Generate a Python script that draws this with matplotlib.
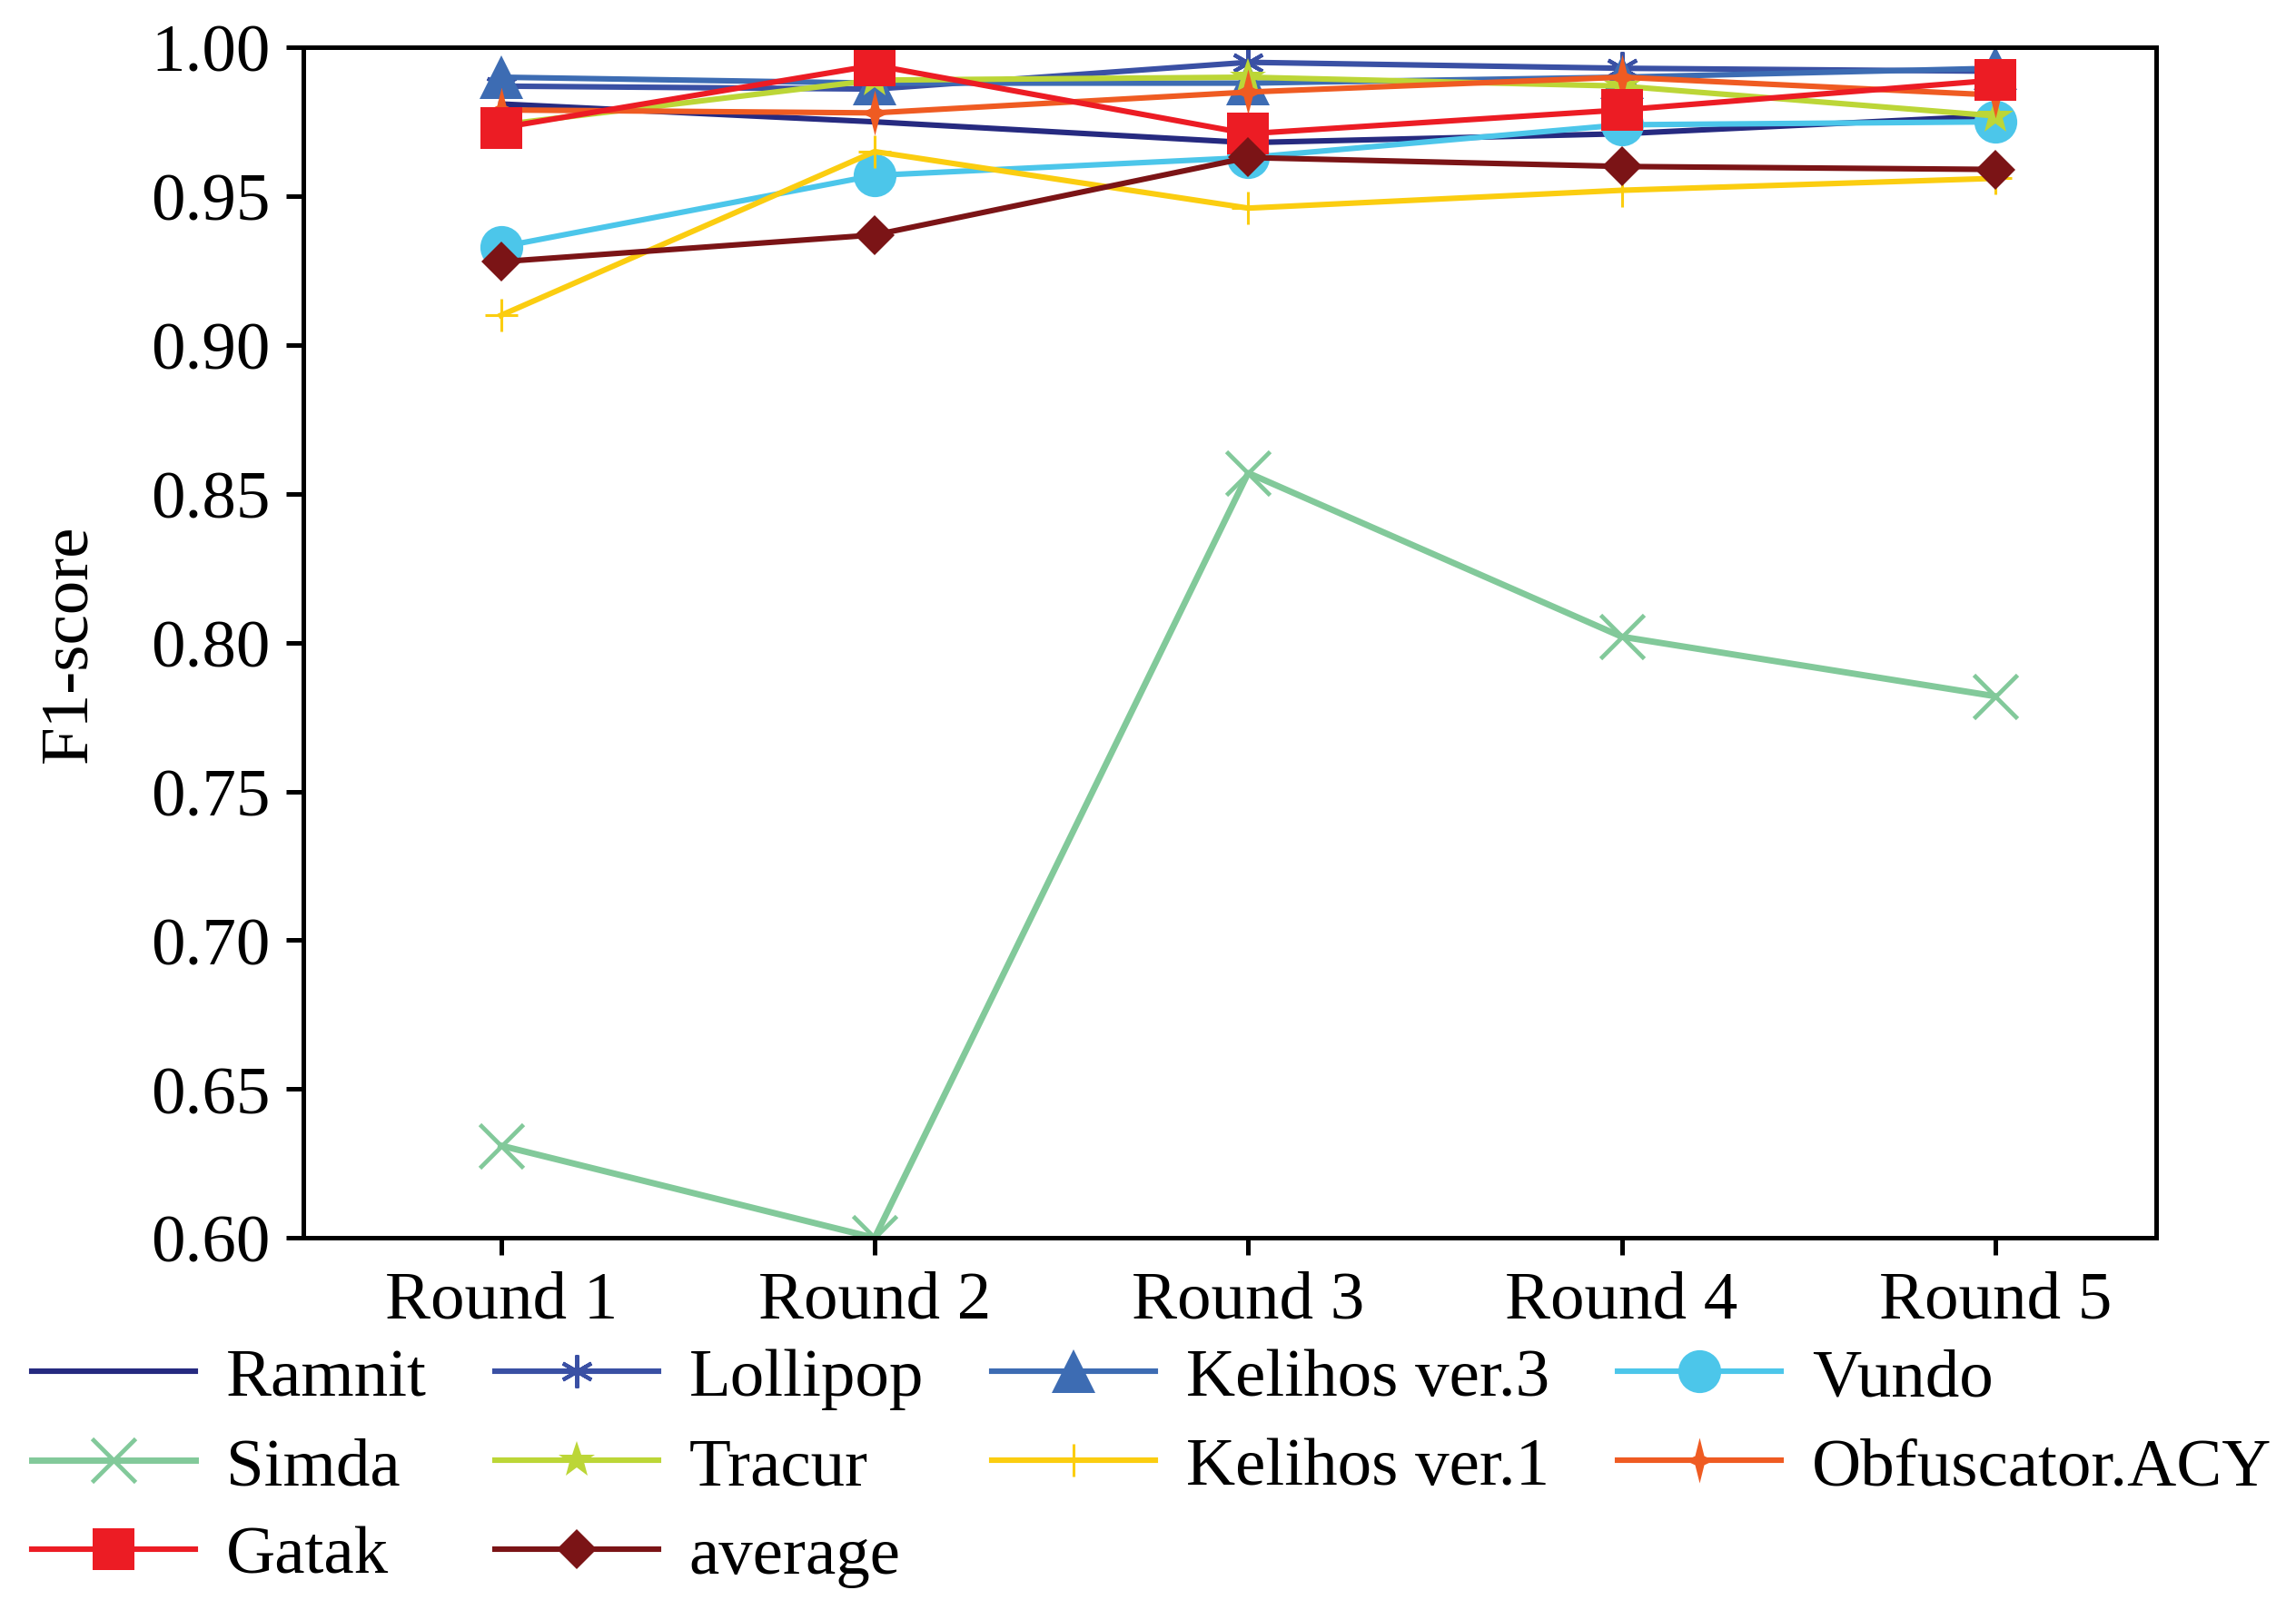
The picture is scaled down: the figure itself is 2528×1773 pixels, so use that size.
import numpy as np
import matplotlib
matplotlib.use("Agg")
import matplotlib.pyplot as plt
from matplotlib.path import Path
from matplotlib.ticker import FormatStrFormatter

plt.rcParams['font.family'] = ['Liberation Serif', 'DejaVu Serif']
plt.rcParams['font.size'] = 27

rounds = ['Round 1', 'Round 2', 'Round 3', 'Round 4', 'Round 5']

ramnit = [0.981, 0.975, 0.968, 0.971, 0.977]
lollipop = [0.987, 0.986, 0.995, 0.993, 0.992]
kelihos3 = [0.990, 0.988, 0.988, 0.990, 0.993]
vundo = [0.933, 0.957, 0.963, 0.974, 0.975]
simda = [0.631, 0.600, 0.857, 0.802, 0.782]
tracur = [0.974, 0.989, 0.990, 0.987, 0.977]
kelihos1 = [0.910, 0.965, 0.946, 0.952, 0.956]
obfuscator = [0.979, 0.978, 0.985, 0.990, 0.984]
gatak = [0.973, 0.994, 0.971, 0.979, 0.989]
average = [0.928, 0.937, 0.963, 0.960, 0.959]

# tall four point star for Obfuscator.ACY
star4 = Path([(0, 1), (0.2, 0.2), (0.62, 0), (0.2, -0.2), (0, -1),
              (-0.2, -0.2), (-0.62, 0), (-0.2, 0.2), (0, 1)])

series = [
    ('Ramnit', ramnit, '#262a80', None, 0, 0),
    ('Lollipop', lollipop, '#3a50a4', (6, 2, 0), 13, 1.5),
    ('Kelihos ver.3', kelihos3, '#3d6cb3', '^', 17, 0),
    ('Vundo', vundo, '#4cc6ea', 'o', 17, 0),
    ('Simda', simda, '#82c99a', 'x', 17, 1.7),
    ('Tracur', tracur, '#bcd637', '*', 15, 0),
    ('Kelihos ver.1', kelihos1, '#fbcd10', '+', 13, 1.1),
    ('Obfuscator.ACY', obfuscator, '#ef5b22', star4, 18, 0),
    ('Gatak', gatak, '#ec1c24', 's', 16.5, 0),
    ('average', average, '#7b1416', 'D', 11, 0),
]

fig = plt.figure(figsize=(12.64, 8.87), dpi=200)
ax = fig.add_axes([0.132, 0.231, 0.807, 0.739])

x = np.arange(len(rounds))
handles = {}
for name, vals, col, mk, ms, mew in series:
    lw = 2.5 if name == 'Simda' else 2.2
    if mk is None:
        h, = ax.plot(x, vals, color=col, lw=lw, label=name)
    else:
        h, = ax.plot(x, vals, color=col, lw=lw, marker=mk, markersize=ms,
                     markeredgewidth=mew, markeredgecolor=col,
                     markerfacecolor=col, label=name)
    handles[name] = h

ax.set_xlim(-0.53, 4.43)
ax.set_ylim(0.60, 1.00)
ax.set_xticks(x)
ax.set_xticklabels(rounds)
ax.set_yticks(np.arange(0.60, 1.001, 0.05))
ax.yaxis.set_major_formatter(FormatStrFormatter('%.2f'))
ax.set_ylabel('F1-score', labelpad=20)
for s in ax.spines.values():
    s.set_linewidth(1.8)
ax.tick_params(direction='out', length=7, width=1.8, pad=6)

# legend filled row by row (matplotlib fills column by column)
order = ['Ramnit', 'Simda', 'Gatak', 'Lollipop', 'Tracur', 'average',
         'Kelihos ver.3', 'Kelihos ver.1', 'Vundo', 'Obfuscator.ACY']
fig.legend([handles[n] for n in order], order, ncol=4, loc='upper left',
           bbox_to_anchor=(0.014, 0.163), frameon=False, borderaxespad=0,
           borderpad=0, handlelength=2.4, handletextpad=0.45,
           columnspacing=1.0, labelspacing=0.39, numpoints=1)

fig.savefig('out.png', dpi=200)
